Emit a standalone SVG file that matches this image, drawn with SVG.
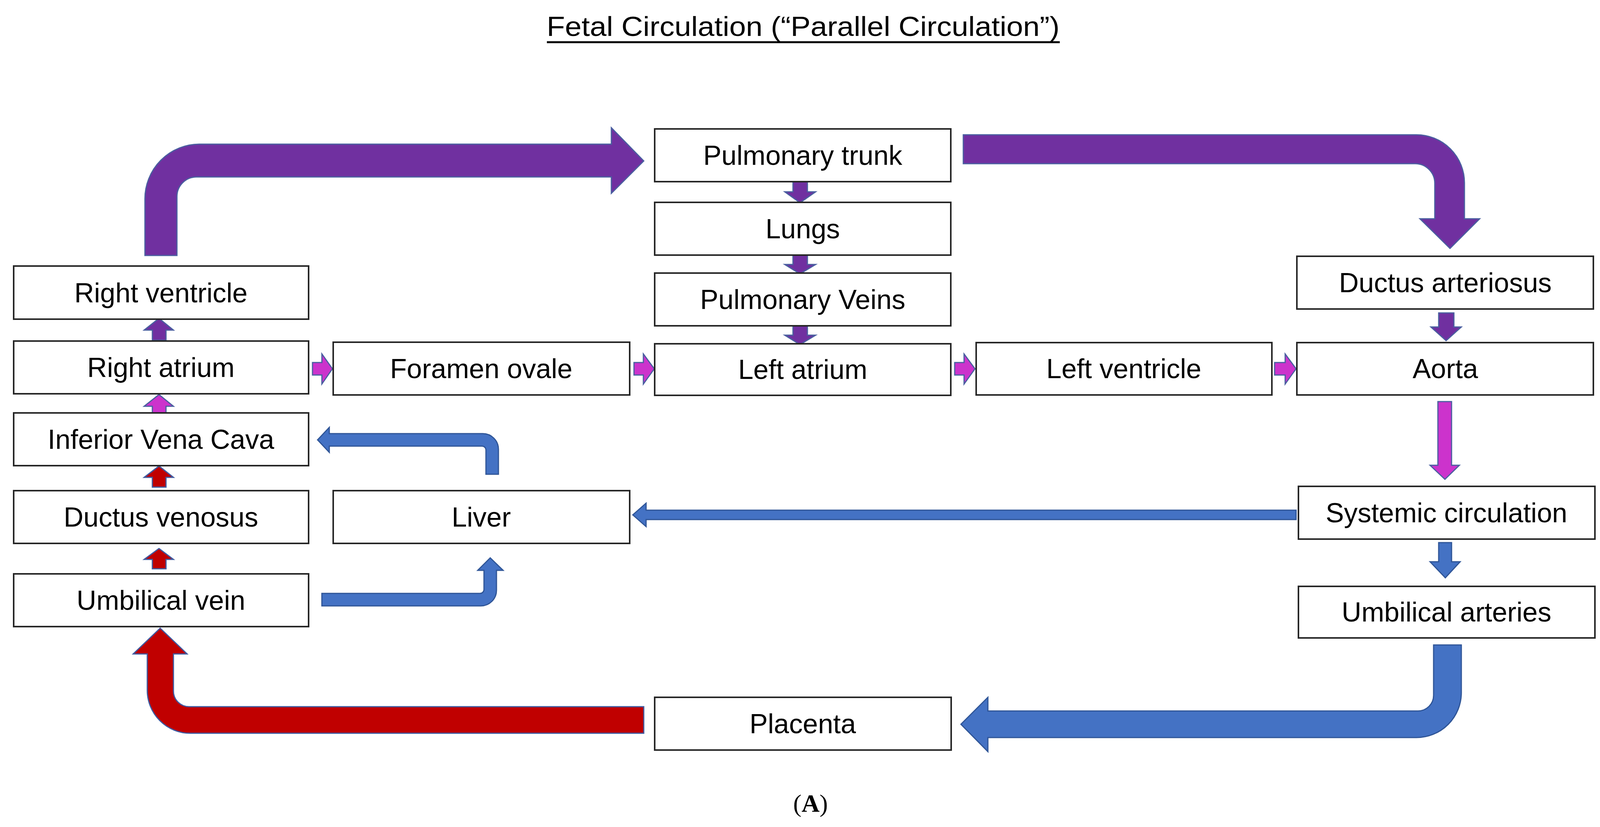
<svg xmlns="http://www.w3.org/2000/svg" width="4117" height="2117" viewBox="0 0 4117 2117">
<style>
.b{fill:#fff;stroke:#262626;stroke-width:4}
.t{font-family:"Liberation Sans",Arial,sans-serif;font-size:70px;fill:#000;text-anchor:middle}
.pu{fill:#7030A0;stroke:#4A5FA0;stroke-width:3}
.mg{fill:#CC33CC;stroke:#4A5FA0;stroke-width:3}
.rd{fill:#C00000;stroke:#3F5AA0;stroke-width:3}
.bl{fill:#4472C4;stroke:#2F5597;stroke-width:3}
</style>
<rect width="4117" height="2117" fill="#fff"/>
<text x="2056" y="92" class="t" font-size="74" textLength="1313" lengthAdjust="spacingAndGlyphs">Fetal Circulation (“Parallel Circulation”)</text>
<line x1="1400" y1="108" x2="2713" y2="108" stroke="#000" stroke-width="5"/>
<text x="2075" y="2078" font-family="Liberation Serif,serif" font-size="64" text-anchor="middle">(<tspan font-weight="bold">A</tspan>)</text>
<g id="connectors">
<path class="pu" d="M371,654 V510 A140,140 0 0 1 511,369 H1565 V327 L1648,412 L1565,495 V453 H503 A50,50 0 0 0 453,503 V654 Z"/>
<path class="pu" d="M2466,345 H3626 A123,123 0 0 1 3749,468 V560 H3788 L3712,636 L3635,560 H3673 V469 A50,50 0 0 0 3623,419 H2466 Z"/>
<path class="bl" d="M3670,1651 H3741 V1773 A115,115 0 0 1 3626,1888 H2529 V1924 L2460,1854 L2529,1785 V1820 H3630 A40,40 0 0 0 3670,1780 Z"/>
<path class="rd" d="M1648,1809 H484 A40,40 0 0 1 444,1769 V1674 H479 L410,1608 L341,1674 H377 V1767 A110,110 0 0 0 487,1877 H1648 Z"/>
<path class="bl" d="M1244,1214 H1276 V1150 A40,40 0 0 0 1236,1110 H843 V1094 L813,1126 L843,1158 V1142 H1234 A10,10 0 0 1 1244,1152 Z"/>
<path class="bl" d="M824,1519 H1229 A10,10 0 0 0 1239,1509 V1460 H1223 L1255,1428 L1288,1460 H1271 V1511 A40,40 0 0 1 1231,1551 H824 Z"/>
<path class="bl" d="M3318,1306 H1654 V1288 L1620,1318 L1654,1348 V1330 H3318 Z"/>
<path class="pu" d="M390,871 V845 H369 L407,815 L444,845 H425 V871 Z"/>
<path class="mg" d="M390,1066 V1040 H369 L407,1010 L444,1040 H425 V1066 Z"/>
<path class="rd" d="M390,1247 V1222 H369 L407,1193 L444,1222 H425 V1247 Z"/>
<path class="rd" d="M390,1456 V1432 H369 L407,1404 L444,1432 H425 V1456 Z"/>
<path class="mg" d="M800,928 H824 V906 L851,944 L824,983 V960 H800 Z"/>
<path class="mg" d="M1623,928 H1647 V906 L1675,944 L1647,983 V960 H1623 Z"/>
<path class="mg" d="M2444,928 H2468 V906 L2496,944 L2468,983 V960 H2444 Z"/>
<path class="mg" d="M3263,928 H3290 V906 L3318,944 L3290,983 V960 H3263 Z"/>
<path class="pu" d="M2030,465 H2067 V491 H2088 L2048,519 L2009,491 H2030 Z"/>
<path class="pu" d="M2030,653 H2067 V677 H2088 L2048,701 L2009,677 H2030 Z"/>
<path class="pu" d="M2030,834 H2067 V858 H2088 L2048,882 L2009,858 H2030 Z"/>
<path class="pu" d="M3683,801 H3722 V837 H3741 L3702,872 L3663,837 H3683 Z"/>
<path class="mg" d="M3681,1028 H3716 V1191 H3736 L3699,1227 L3661,1191 H3681 Z"/>
<path class="bl" d="M3683,1389 H3716 V1438 H3738 L3700,1479 L3661,1438 H3683 Z"/>
</g>
<g id="rv"><rect class="b" x="35" y="681" width="755" height="136"/><text class="t" x="412" y="774">Right ventricle</text></g>
<g id="ra"><rect class="b" x="35" y="873" width="755" height="135"/><text class="t" x="412" y="965">Right atrium</text></g>
<g id="ivc"><rect class="b" x="35" y="1057" width="755" height="135"/><text class="t" x="412" y="1149">Inferior Vena Cava</text></g>
<g id="dv"><rect class="b" x="35" y="1256" width="755" height="135"/><text class="t" x="412" y="1348">Ductus venosus</text></g>
<g id="uv"><rect class="b" x="35" y="1469" width="755" height="135"/><text class="t" x="412" y="1561">Umbilical vein</text></g>
<g id="fo"><rect class="b" x="853" y="876" width="759" height="135"/><text class="t" x="1232" y="968">Foramen ovale</text></g>
<g id="liver"><rect class="b" x="853" y="1256" width="759" height="135"/><text class="t" x="1232" y="1348">Liver</text></g>
<g id="pt"><rect class="b" x="1676" y="330" width="758" height="135"/><text class="t" x="2055" y="422">Pulmonary trunk</text></g>
<g id="lungs"><rect class="b" x="1676" y="518" width="758" height="135"/><text class="t" x="2055" y="610">Lungs</text></g>
<g id="pv"><rect class="b" x="1676" y="699" width="758" height="135"/><text class="t" x="2055" y="791">Pulmonary Veins</text></g>
<g id="la"><rect class="b" x="1676" y="880" width="758" height="132"/><text class="t" x="2055" y="970">Left atrium</text></g>
<g id="lv"><rect class="b" x="2499" y="877" width="757" height="134"/><text class="t" x="2877" y="968">Left ventricle</text></g>
<g id="da"><rect class="b" x="3320" y="656" width="759" height="135"/><text class="t" x="3700" y="748">Ductus arteriosus</text></g>
<g id="aorta"><rect class="b" x="3320" y="877" width="759" height="134"/><text class="t" x="3700" y="968">Aorta</text></g>
<g id="sys"><rect class="b" x="3324" y="1245" width="759" height="135"/><text class="t" x="3703" y="1337">Systemic circulation</text></g>
<g id="ua"><rect class="b" x="3324" y="1501" width="759" height="132"/><text class="t" x="3703" y="1591">Umbilical arteries</text></g>
<g id="placenta"><rect class="b" x="1676" y="1785" width="759" height="135"/><text class="t" x="2055" y="1877">Placenta</text></g>
</svg>
